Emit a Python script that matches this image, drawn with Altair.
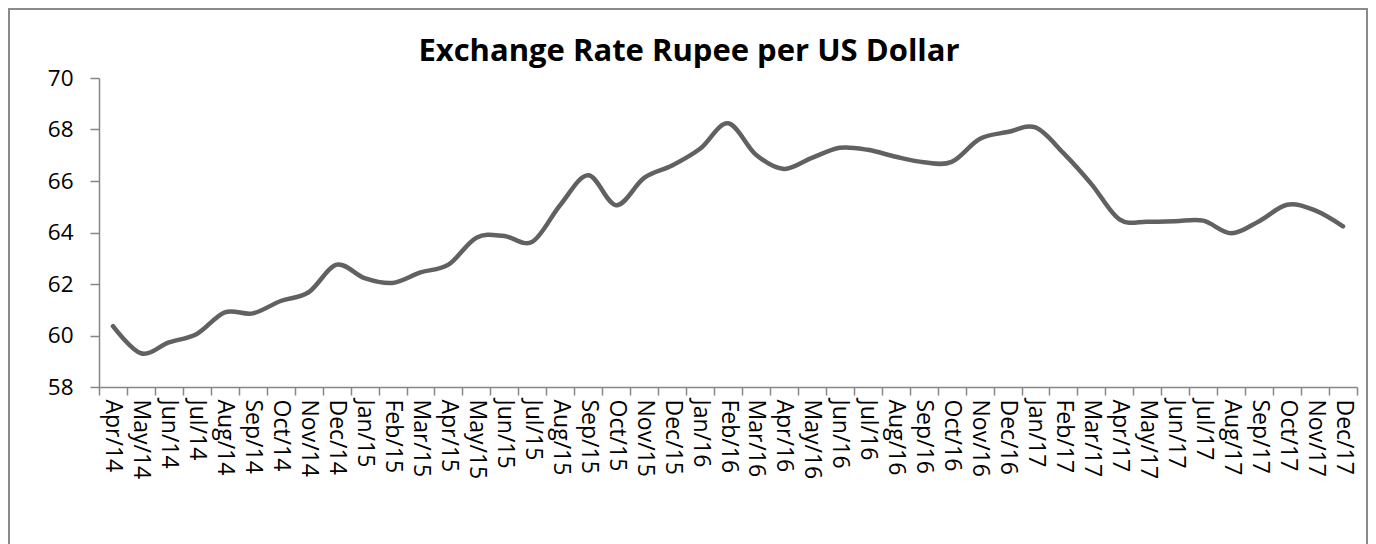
import altair as alt
import pandas as pd

months = ["Apr/14", "May/14", "Jun/14", "Jul/14", "Aug/14", "Sep/14", "Oct/14", "Nov/14", "Dec/14",
          "Jan/15", "Feb/15", "Mar/15", "Apr/15", "May/15", "Jun/15", "Jul/15", "Aug/15", "Sep/15",
          "Oct/15", "Nov/15", "Dec/15", "Jan/16", "Feb/16", "Mar/16", "Apr/16", "May/16", "Jun/16",
          "Jul/16", "Aug/16", "Sep/16", "Oct/16", "Nov/16", "Dec/16", "Jan/17", "Feb/17", "Mar/17",
          "Apr/17", "May/17", "Jun/17", "Jul/17", "Aug/17", "Sep/17", "Oct/17", "Nov/17", "Dec/17"]
rates = [60.36, 59.31, 59.73, 60.06, 60.90, 60.86, 61.34, 61.68, 62.75,
         62.23, 62.04, 62.45, 62.75, 63.80, 63.86, 63.64, 65.07, 66.22,
         65.06, 66.12, 66.60, 67.25, 68.24, 67.02, 66.47, 66.90, 67.29,
         67.21, 66.94, 66.73, 66.74, 67.63, 67.90, 68.08, 67.08, 65.88,
         64.51, 64.42, 64.44, 64.46, 63.97, 64.44, 65.08, 64.86, 64.24]
title_text = "Exchange Rate Rupee per US Dollar"
y_ticks = [58, 60, 62, 64, 66, 68, 70]

df = pd.DataFrame({"month": months, "rate": rates})
FONT = "Open Sans"
AX = "#868686"

x_enc = alt.X("month:N", sort=months, title=None,
              scale=alt.Scale(paddingInner=0, paddingOuter=0),
              axis=alt.Axis(labelAngle=90, labelAlign="left", labelBaseline="middle",
                            labelFontSize=23, labelFont=FONT, labelColor="#000000",
                            labelPadding=4, tickSize=8, tickColor=AX, tickWidth=1.5,
                            domainColor=AX, domainWidth=1.5, tickBand="extent",
                            grid=False, labelOverlap=False))
y_enc = alt.Y("rate:Q", title=None,
              scale=alt.Scale(domain=[58, 70], nice=False, zero=False),
              axis=alt.Axis(values=y_ticks, labelFontSize=22.5, labelFont=FONT,
                            labelColor="#000000", labelPadding=17, tickSize=9,
                            tickColor=AX, tickWidth=1.5, domainColor=AX,
                            domainWidth=1.5, grid=False))

line = alt.Chart(df).mark_line(color="#616161", strokeWidth=4.5, interpolate="cardinal",
                               strokeCap="round", strokeJoin="round").encode(x=x_enc, y=y_enc)

one = pd.DataFrame({"t": [title_text]})
frame = alt.Chart(one).mark_rect(filled=False, stroke="#8a8a8a", strokeWidth=2).encode(
    x=alt.value(-90), x2=alt.value(1268), y=alt.value(-69), y2=alt.value(480))
title = alt.Chart(one).mark_text(fontSize=31, fontWeight="bold", font=FONT, color="#000000",
                                 align="center", baseline="alphabetic").encode(
    x=alt.value(590), y=alt.value(-17), text="t:N")

chart = alt.layer(line, frame, title).properties(
    width=1258, height=309,
    autosize=alt.AutoSizeParams(type="none"),
    padding={"left": 91, "top": 70, "right": 11, "bottom": 157},
).configure_view(stroke=None)

chart.save("out.html", embed_options={"renderer": "svg", "actions": False})
